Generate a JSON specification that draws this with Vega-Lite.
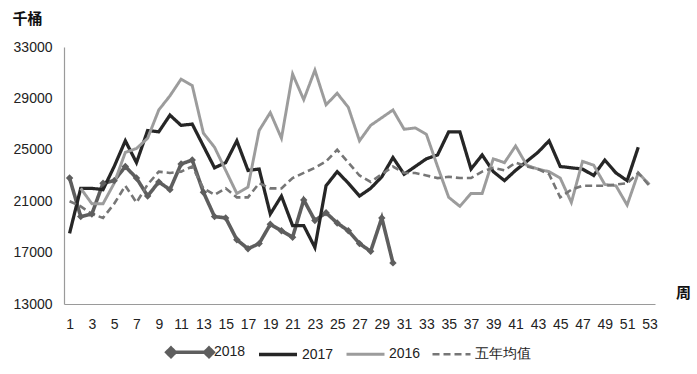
{
  "$schema": "https://vega.github.io/schema/vega-lite/v6.json",
  "autosize": "none",
  "width": 591,
  "height": 257,
  "padding": {"left": 64, "top": 47, "right": 42, "bottom": 70},
  "background": "white",
  "config": {
    "view": {"stroke": null},
    "font": "Liberation Sans",
    "axis": {"labelFont": "Liberation Sans", "labelFontSize": 14, "labelColor": "#222", "labelOverlap": false, "titleFont": "Noto Sans CJK SC", "titleFontSize": 15, "titleFontWeight": "bold", "titleColor": "#111"},
    "legend": {"labelFont": "Liberation Sans", "labelFontSize": 14, "labelColor": "#222"}
  },
  "data": {"values": [
    {"week":1,"series":"2018","value":22800},{"week":2,"series":"2018","value":19800},{"week":3,"series":"2018","value":20000},{"week":4,"series":"2018","value":22400},{"week":5,"series":"2018","value":22600},{"week":6,"series":"2018","value":23700},{"week":7,"series":"2018","value":22800},{"week":8,"series":"2018","value":21400},{"week":9,"series":"2018","value":22500},{"week":10,"series":"2018","value":21900},{"week":11,"series":"2018","value":23900},{"week":12,"series":"2018","value":24200},{"week":13,"series":"2018","value":21700},{"week":14,"series":"2018","value":19800},{"week":15,"series":"2018","value":19700},{"week":16,"series":"2018","value":18000},{"week":17,"series":"2018","value":17300},{"week":18,"series":"2018","value":17700},{"week":19,"series":"2018","value":19200},{"week":20,"series":"2018","value":18700},{"week":21,"series":"2018","value":18200},{"week":22,"series":"2018","value":21100},{"week":23,"series":"2018","value":19500},{"week":24,"series":"2018","value":20100},{"week":25,"series":"2018","value":19300},{"week":26,"series":"2018","value":18700},{"week":27,"series":"2018","value":17700},{"week":28,"series":"2018","value":17100},{"week":29,"series":"2018","value":19700},{"week":30,"series":"2018","value":16200},
    {"week":1,"series":"2017","value":18500},{"week":2,"series":"2017","value":22000},{"week":3,"series":"2017","value":22000},{"week":4,"series":"2017","value":21900},{"week":5,"series":"2017","value":23700},{"week":6,"series":"2017","value":25700},{"week":7,"series":"2017","value":24000},{"week":8,"series":"2017","value":26500},{"week":9,"series":"2017","value":26400},{"week":10,"series":"2017","value":27700},{"week":11,"series":"2017","value":26900},{"week":12,"series":"2017","value":27000},{"week":13,"series":"2017","value":25300},{"week":14,"series":"2017","value":23600},{"week":15,"series":"2017","value":24000},{"week":16,"series":"2017","value":25700},{"week":17,"series":"2017","value":23400},{"week":18,"series":"2017","value":23500},{"week":19,"series":"2017","value":20000},{"week":20,"series":"2017","value":21400},{"week":21,"series":"2017","value":19100},{"week":22,"series":"2017","value":19100},{"week":23,"series":"2017","value":17400},{"week":24,"series":"2017","value":22200},{"week":25,"series":"2017","value":23300},{"week":26,"series":"2017","value":22400},{"week":27,"series":"2017","value":21400},{"week":28,"series":"2017","value":22000},{"week":29,"series":"2017","value":22900},{"week":30,"series":"2017","value":24400},{"week":31,"series":"2017","value":23100},{"week":32,"series":"2017","value":23700},{"week":33,"series":"2017","value":24300},{"week":34,"series":"2017","value":24600},{"week":35,"series":"2017","value":26400},{"week":36,"series":"2017","value":26400},{"week":37,"series":"2017","value":23500},{"week":38,"series":"2017","value":24600},{"week":39,"series":"2017","value":23300},{"week":40,"series":"2017","value":22600},{"week":41,"series":"2017","value":23400},{"week":42,"series":"2017","value":24100},{"week":43,"series":"2017","value":24800},{"week":44,"series":"2017","value":25700},{"week":45,"series":"2017","value":23700},{"week":46,"series":"2017","value":23600},{"week":47,"series":"2017","value":23500},{"week":48,"series":"2017","value":23000},{"week":49,"series":"2017","value":24200},{"week":50,"series":"2017","value":23200},{"week":51,"series":"2017","value":22600},{"week":52,"series":"2017","value":25200},
    {"week":2,"series":"2016","value":22000},{"week":3,"series":"2016","value":20800},{"week":4,"series":"2016","value":20800},{"week":5,"series":"2016","value":22400},{"week":6,"series":"2016","value":24800},{"week":7,"series":"2016","value":25100},{"week":8,"series":"2016","value":25900},{"week":9,"series":"2016","value":28100},{"week":10,"series":"2016","value":29200},{"week":11,"series":"2016","value":30500},{"week":12,"series":"2016","value":30000},{"week":13,"series":"2016","value":26300},{"week":14,"series":"2016","value":25200},{"week":15,"series":"2016","value":23400},{"week":16,"series":"2016","value":21600},{"week":17,"series":"2016","value":22100},{"week":18,"series":"2016","value":26500},{"week":19,"series":"2016","value":27900},{"week":20,"series":"2016","value":25900},{"week":21,"series":"2016","value":30900},{"week":22,"series":"2016","value":28900},{"week":23,"series":"2016","value":31200},{"week":24,"series":"2016","value":28500},{"week":25,"series":"2016","value":29400},{"week":26,"series":"2016","value":28300},{"week":27,"series":"2016","value":25700},{"week":28,"series":"2016","value":26900},{"week":29,"series":"2016","value":27500},{"week":30,"series":"2016","value":28100},{"week":31,"series":"2016","value":26600},{"week":32,"series":"2016","value":26700},{"week":33,"series":"2016","value":26200},{"week":34,"series":"2016","value":23700},{"week":35,"series":"2016","value":21300},{"week":36,"series":"2016","value":20600},{"week":37,"series":"2016","value":21600},{"week":38,"series":"2016","value":21600},{"week":39,"series":"2016","value":24300},{"week":40,"series":"2016","value":24000},{"week":41,"series":"2016","value":25300},{"week":42,"series":"2016","value":23800},{"week":43,"series":"2016","value":23500},{"week":44,"series":"2016","value":23300},{"week":45,"series":"2016","value":22800},{"week":46,"series":"2016","value":20900},{"week":47,"series":"2016","value":24100},{"week":48,"series":"2016","value":23800},{"week":49,"series":"2016","value":22300},{"week":50,"series":"2016","value":22200},{"week":51,"series":"2016","value":20700},{"week":52,"series":"2016","value":23200},{"week":53,"series":"2016","value":22300},
    {"week":1,"series":"五年均值","value":21000},{"week":2,"series":"五年均值","value":20600},{"week":3,"series":"五年均值","value":20000},{"week":4,"series":"五年均值","value":19700},{"week":5,"series":"五年均值","value":20800},{"week":6,"series":"五年均值","value":22200},{"week":7,"series":"五年均值","value":20900},{"week":8,"series":"五年均值","value":22300},{"week":9,"series":"五年均值","value":23300},{"week":10,"series":"五年均值","value":23200},{"week":11,"series":"五年均值","value":23300},{"week":12,"series":"五年均值","value":23700},{"week":13,"series":"五年均值","value":22000},{"week":14,"series":"五年均值","value":21500},{"week":15,"series":"五年均值","value":22000},{"week":16,"series":"五年均值","value":21300},{"week":17,"series":"五年均值","value":21300},{"week":18,"series":"五年均值","value":22400},{"week":19,"series":"五年均值","value":22000},{"week":20,"series":"五年均值","value":22000},{"week":21,"series":"五年均值","value":22800},{"week":22,"series":"五年均值","value":23200},{"week":23,"series":"五年均值","value":23600},{"week":24,"series":"五年均值","value":24100},{"week":25,"series":"五年均值","value":25000},{"week":26,"series":"五年均值","value":24000},{"week":27,"series":"五年均值","value":23000},{"week":28,"series":"五年均值","value":22500},{"week":29,"series":"五年均值","value":23100},{"week":30,"series":"五年均值","value":23700},{"week":31,"series":"五年均值","value":23200},{"week":32,"series":"五年均值","value":23200},{"week":33,"series":"五年均值","value":23000},{"week":34,"series":"五年均值","value":22800},{"week":35,"series":"五年均值","value":22900},{"week":36,"series":"五年均值","value":22800},{"week":37,"series":"五年均值","value":22800},{"week":38,"series":"五年均值","value":23300},{"week":39,"series":"五年均值","value":23600},{"week":40,"series":"五年均值","value":23400},{"week":41,"series":"五年均值","value":24000},{"week":42,"series":"五年均值","value":23700},{"week":43,"series":"五年均值","value":23500},{"week":44,"series":"五年均值","value":23100},{"week":45,"series":"五年均值","value":21300},{"week":46,"series":"五年均值","value":21900},{"week":47,"series":"五年均值","value":22200},{"week":48,"series":"五年均值","value":22200},{"week":49,"series":"五年均值","value":22200},{"week":50,"series":"五年均值","value":22300},{"week":51,"series":"五年均值","value":22400},{"week":52,"series":"五年均值","value":23200},{"week":53,"series":"五年均值","value":22200}
  ]},
  "layer": [
    {
      "mark": {"type": "line", "strokeJoin": "miter", "strokeCap": "butt"},
      "encoding": {
        "x": {"field": "week", "type": "quantitative",
          "scale": {"domain": [0.5, 53.5], "nice": false, "zero": false},
          "axis": {"values": [1,3,5,7,9,11,13,15,17,19,21,23,25,27,29,31,33,35,37,39,41,43,45,47,49,51,53], "tickCount": 100,
            "grid": false, "ticks": false, "domainColor": "#9a9a9a", "domainWidth": 1.2, "labelPadding": 13, "labelFlush": false, "labelOverlap": false, "format": "d",
            "title": "周", "titleAngle": 0, "titleAlign": "center", "titleBaseline": "middle", "titleX": 619, "titleY": -12}},
        "y": {"field": "value", "type": "quantitative",
          "scale": {"domain": [13000, 33000], "nice": false, "zero": false},
          "axis": {"values": [13000,17000,21000,25000,29000,33000], "grid": false, "ticks": false, "format": "d", "labelOverlap": false,
            "domainColor": "#9a9a9a", "domainWidth": 1.2, "labelPadding": 12,
            "title": "千桶", "titleAngle": 0, "titleAlign": "left", "titleBaseline": "middle", "titleX": -52, "titleY": -29}},
        "color": {"field": "series", "type": "nominal",
          "scale": {"domain": ["2018","2017","2016","五年均值"], "range": ["#5e5e5e","#262626","#9c9c9c","#767676"]},
          "legend": {"title": null, "orient": "none", "direction": "horizontal", "legendX": 105, "legendY": 284,
            "symbolSize": 1444, "columnPadding": 6, "labelOffset": 3,
            "encode": {"symbols": {"update": {
              "shape": {"signal": "datum.value === '2018' ? 'M-1,0L1,0M-1.22,0L-1,-0.22L-0.78,0L-1,0.22ZM0.78,0L1,-0.22L1.22,0L1,0.22Z' : 'stroke'"},
              "fill": {"signal": "datum.value === '2018' ? '#5e5e5e' : 'transparent'"}}}}}},
        "strokeDash": {"field": "series", "type": "nominal",
          "scale": {"domain": ["2018","2017","2016","五年均值"], "range": [[1,0],[1,0],[1,0],[7,4]]}},
        "strokeWidth": {"field": "series", "type": "nominal",
          "scale": {"domain": ["2018","2017","2016","五年均值"], "range": [3.6,2.6,2.6,2.6]}},
        "order": {"field": "week", "type": "quantitative"}
      }
    },
    {
      "transform": [{"filter": "datum.series === '2018'"}],
      "mark": {"type": "point", "shape": "diamond", "filled": true, "size": 55, "color": "#5e5e5e", "opacity": 1},
      "encoding": {
        "x": {"field": "week", "type": "quantitative"},
        "y": {"field": "value", "type": "quantitative"}
      }
    }
  ]
}
